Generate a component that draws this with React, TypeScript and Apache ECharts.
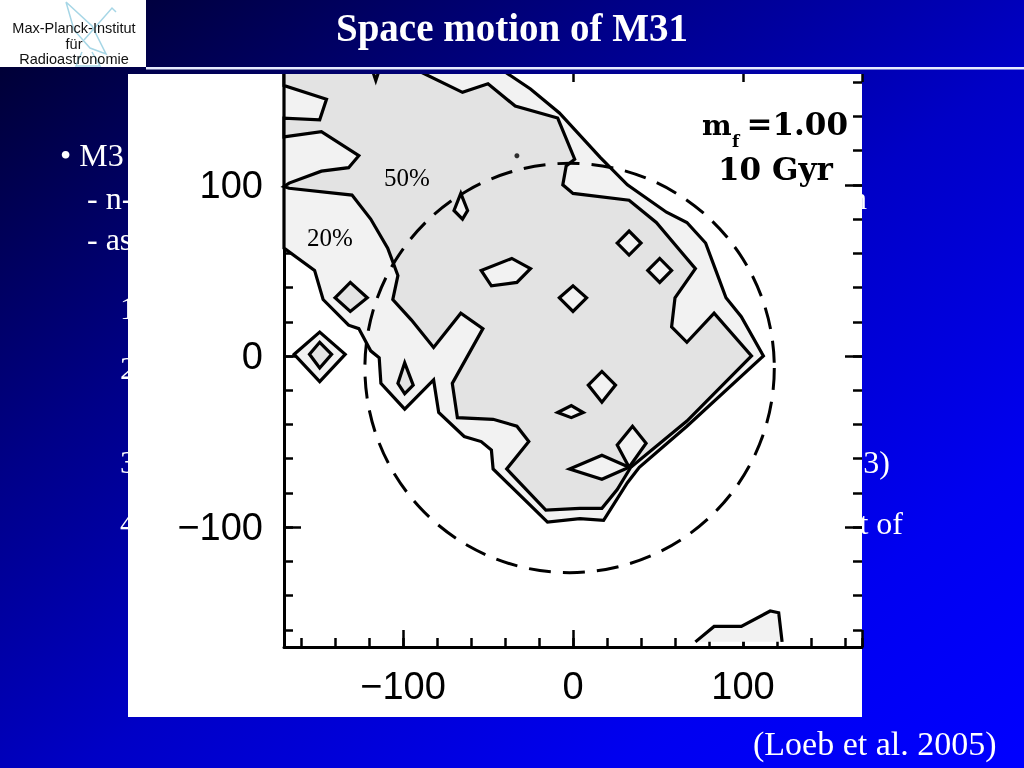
import React, { useEffect, useRef } from 'react';
import * as echarts from 'echarts';

// ---------- data ----------
const titleText = 'Space motion of M31';
const citationText = '(Loeb et al. 2005)';
const logoLines = ['Max-Planck-Institut', 'für', 'Radioastronomie'];
const bulletLeftTexts = ['• M3', '- n-', '- as', '1', '2', '3', '4'];
const bulletRightTexts = ['n', '3)', 't of'];
const levelLabels = ['50%', '20%'];
const panelMass = '=1.00';
const panelAge = '10 Gyr';

const axisMin = -170;
const axisMax = 170;
const minorStep = 20;
const majorStep = 100;
const tickLabelValues = [-100, 0, 100];
const tickLabels = ['−100', '0', '100'];

// 20% contour (outer)
const contour20: number[][] = [
  [-170, 63], [-152, 50], [-147, 33], [-132, 18], [-126, 16], [-119, 3], [-114, -1],
  [-113, -16], [-99, -31], [-82, -14], [-79, -33], [-64, -47], [-54, -50], [-48, -55],
  [-47, -66], [-15, -97], [4, -95], [18, -96], [32, -74], [39, -65], [67, -41], [112, 0],
  [99, 23], [90, 34], [84, 50], [78, 66], [67, 78], [55, 84], [32, 100], [16, 116],
  [-8, 142], [-25, 156], [-46, 170], [-170, 170]
];

// 50% contour (inner)
const contour50: number[][] = [
  [-98, 170], [-65, 154], [-50, 159], [-34, 146], [-9, 139], [1, 115], [-4, 111], [-6, 100],
  [0, 95], [33, 91], [49, 78], [72, 51], [60, 34], [58, 17], [67, 8], [83, 25], [105, 0],
  [67, -38], [34, -65], [26, -78], [17, -89], [4, -89], [-16, -90], [-39, -66], [-26, -50],
  [-33, -41], [-47, -37], [-68, -36], [-71, -16], [-53, 16], [-66, 25], [-82, 5], [-95, 21],
  [-106, 33], [-103, 47], [-109, 63], [-119, 80], [-130, 94], [-167, 98], [-170, 99],
  [-167, 101], [-148, 108], [-132, 110], [-126, 117], [-148, 131], [-170, 128], [-170, 139],
  [-149, 138], [-145, 150], [-170, 158], [-170, 170], [-119, 170], [-116, 161], [-113, 170]
];

// light islands inside the 50% region
const holes50: number[][][] = [
  [[-66, 95], [-62, 85], [-65, 80], [-70, 85]],
  [[-54, 50], [-36, 57], [-25, 51], [-33, 43], [-48, 41]],
  [[26, 66], [33, 73], [40, 66], [33, 59]],
  [[44, 50], [51, 57], [58, 50], [51, 43]],
  [[-8, 34], [0, 41], [8, 34], [0, 26]],
  [[9, -17], [17, -9], [25, -17], [17, -27]],
  [[-9, -33], [-1, -29], [6, -33], [-1, -36]],
  [[26, -52], [35, -41], [43, -51], [33, -65]],
  [[-2, -66], [17, -58], [33, -65], [17, -72]]
];

// 20% islands outside
const islands20: number[][][] = [
  [[-164, 1], [-149, 14], [-134, 1], [-149, -15]]
];

// 50% islands
const islands50: number[][][] = [
  [[-140, 34], [-131, 43], [-121, 34], [-131, 26]],
  [[-155, 1], [-149, 8], [-142, 1], [-149, -7]],
  [[-99, -4], [-94, -17], [-99, -22], [-103, -16]]
];

// open 20% contour at the lower right edge
const edge20: number[][] = [[72, -167], [83, -158], [99, -158], [116, -149], [121, -150], [123, -167]];

// dashed circle [cx, cy, r]
const circle: number[] = [-2, -7, 120];
// small dot
const dot: number[] = [-33, 117];

// ---------- styles ----------
const LIGHT = '#f2f2f2';
const DARK = '#e3e3e3';
const LINE_W = 3.2;
const bgGrad = {
  type: 'linear', x: 0, y: 0, x2: 737, y2: 983, global: true,
  colorStops: [
    { offset: 0, color: '#00002a' },
    { offset: 0.12, color: '#00004e' },
    { offset: 0.31, color: '#000088' },
    { offset: 0.54, color: '#0000c6' },
    { offset: 0.8, color: '#0000f0' },
    { offset: 1, color: '#0000ff' }
  ]
};

function polySeries(name: string, polys: number[][][], fill: string) {
  return {
    type: 'custom',
    name,
    coordinateSystem: 'cartesian2d',
    data: polys.map((p) => p[0]),
    renderItem: (params: any, api: any) => {
      const pts = polys[params.dataIndex].map((p) => api.coord(p));
      return {
        type: 'polygon',
        shape: { points: pts },
        style: { fill, stroke: '#000', lineWidth: LINE_W, lineJoin: 'miter' }
      };
    }
  };
}

function fmt(v: number) {
  const i = tickLabelValues.indexOf(Math.round(v));
  return i >= 0 && Math.abs(v - Math.round(v)) < 1e-6 ? tickLabels[i] : '';
}

function axis(kind: 'x' | 'y', position: string, step: number, len: number, main: boolean) {
  return {
    type: 'value',
    position,
    min: axisMin,
    max: axisMax,
    minInterval: step,
    maxInterval: step,
    splitLine: { show: false },
    axisLine: { show: main, onZero: false, lineStyle: { color: '#000', width: 3 } },
    axisTick: { show: true, inside: true, length: len, lineStyle: { color: '#000', width: 2.5 } },
    axisLabel: main
      ? {
          show: true,
          formatter: fmt,
          color: '#000',
          fontSize: 38,
          fontFamily: 'Liberation Sans',
          margin: kind === 'x' ? 20 : 21
        }
      : { show: false }
  };
}

function buildOption() {
  const slideFont = { fontFamily: 'Liberation Serif', fontSize: 32 };
  const leftPos = [[60, 155], [87, 198], [87, 239], [120, 308], [120, 368], [120, 462], [120, 523]];
  const rightPos = [[867, 198], [890, 462], [903, 523]];

  const graphics: any[] = [
    { type: 'rect', z: -100, silent: true, shape: { x: 0, y: 0, width: 1024, height: 768 }, style: { fill: bgGrad } },
    ...bulletLeftTexts.map((t, i) => ({
      type: 'text', z: -90, x: leftPos[i][0], y: leftPos[i][1],
      style: { text: t, fill: '#fff', ...slideFont, textAlign: 'left', textVerticalAlign: 'middle' }
    })),
    ...bulletRightTexts.map((t, i) => ({
      type: 'text', z: -90, x: rightPos[i][0], y: rightPos[i][1],
      style: { text: t, fill: '#fff', ...slideFont, textAlign: 'right', textVerticalAlign: 'middle' }
    })),
    { type: 'text', z: -90, x: 753, y: 743,
      style: { text: citationText, fill: '#fff', fontFamily: 'Liberation Serif', fontSize: 34, textAlign: 'left', textVerticalAlign: 'middle' } },
    { type: 'rect', z: -80, shape: { x: 128, y: 74, width: 734, height: 643 }, style: { fill: '#fff' } },
    // annotations in panel
    { type: 'text', z: 50, x: 407, y: 177,
      style: { text: levelLabels[0], fill: '#000', fontFamily: 'Liberation Serif', fontSize: 25, textAlign: 'center', textVerticalAlign: 'middle' } },
    { type: 'text', z: 50, x: 330, y: 237,
      style: { text: levelLabels[1], fill: '#000', fontFamily: 'Liberation Serif', fontSize: 25, textAlign: 'center', textVerticalAlign: 'middle' } },
    { type: 'text', z: 50, x: 702, y: 125,
      style: { text: 'm', fill: '#000', fontFamily: 'DejaVu Serif', fontWeight: 'bold', fontSize: 28, textAlign: 'left', textVerticalAlign: 'middle' } },
    { type: 'text', z: 50, x: 732, y: 141,
      style: { text: 'f', fill: '#000', fontFamily: 'DejaVu Serif', fontWeight: 'bold', fontSize: 17, textAlign: 'left', textVerticalAlign: 'middle' } },
    { type: 'text', z: 50, x: 848, y: 124,
      style: { text: panelMass, fill: '#000', fontFamily: 'DejaVu Serif', fontWeight: 'bold', fontSize: 31, textAlign: 'right', textVerticalAlign: 'middle' } },
    { type: 'text', z: 50, x: 718, y: 169,
      style: { text: panelAge, fill: '#000', fontFamily: 'DejaVu Serif', fontWeight: 'bold', fontSize: 31, textAlign: 'left', textVerticalAlign: 'middle' } },
    // cover above the panel top
    { type: 'rect', z: 100, silent: true, shape: { x: 120, y: 0, width: 770, height: 74 }, style: { fill: bgGrad } },
    { type: 'rect', z: 101, shape: { x: 146, y: 67, width: 878, height: 2.5 }, style: { fill: '#e6ebff' } },
    { type: 'text', z: 102, x: 512, y: 27,
      style: { text: titleText, fill: '#fff', fontFamily: 'Liberation Serif', fontWeight: 'bold', fontSize: 39, textAlign: 'center', textVerticalAlign: 'middle' } },
    // logo
    { type: 'rect', z: 101, shape: { x: 0, y: 0, width: 146, height: 67 }, style: { fill: '#fff' } },
    { type: 'polyline', z: 102, shape: { points: [[66, 2], [92, 26], [106, 54], [90, 48], [74, 30], [66, 2]] },
      style: { fill: 'none', stroke: '#a6d6e6', lineWidth: 1.5 } },
    { type: 'polyline', z: 102, shape: { points: [[84, 40], [112, 8], [116, 12]] },
      style: { fill: 'none', stroke: '#a6d6e6', lineWidth: 1.5 } },
    { type: 'polyline', z: 102, shape: { points: [[82, 52], [76, 66], [100, 66], [92, 52]] },
      style: { fill: 'none', stroke: '#a6d6e6', lineWidth: 1.5 } },
    ...logoLines.map((t, i) => ({
      type: 'text', z: 103, x: 74, y: [28, 44, 59][i],
      style: { text: t, fill: '#111', fontFamily: 'Liberation Sans', fontSize: 14.5, textAlign: 'center', textVerticalAlign: 'middle' }
    }))
  ];

  return {
    animation: false,
    backgroundColor: 'transparent',
    grid: { left: 284, top: 65, width: 578, height: 582, containLabel: false, outerBoundsMode: 'none' },
    xAxis: [
      axis('x', 'bottom', minorStep, 9, true),
      axis('x', 'bottom', majorStep, 17, false),
      axis('x', 'top', minorStep, 9, false),
      axis('x', 'top', majorStep, 17, false)
    ],
    yAxis: [
      axis('y', 'left', minorStep, 9, true),
      axis('y', 'left', majorStep, 17, false),
      axis('y', 'right', minorStep, 9, false),
      axis('y', 'right', majorStep, 17, false)
    ],
    graphic: { elements: graphics },
    series: [
      polySeries('20%', [contour20], LIGHT),
      polySeries('50%', [contour50], DARK),
      polySeries('holes', holes50, LIGHT),
      polySeries('islands20', islands20, LIGHT),
      polySeries('islands50', islands50, DARK),
      {
        type: 'custom',
        name: 'edge20',
        coordinateSystem: 'cartesian2d',
        data: [edge20[0]],
        renderItem: (_p: any, api: any) => {
          const pts = edge20.map((p) => api.coord(p));
          return {
            type: 'group',
            children: [
              { type: 'polygon', shape: { points: pts }, style: { fill: LIGHT, stroke: 'none' } },
              { type: 'polyline', shape: { points: pts }, style: { fill: 'none', stroke: '#000', lineWidth: LINE_W } }
            ]
          };
        }
      },
      {
        type: 'custom',
        name: 'circle',
        coordinateSystem: 'cartesian2d',
        z: 5,
        data: [circle],
        renderItem: (_p: any, api: any) => {
          const c = api.coord([circle[0], circle[1]]);
          const rx = api.size([circle[2], 0])[0];
          const ry = api.size([0, circle[2]])[1];
          return {
            type: 'circle',
            shape: { cx: c[0], cy: c[1], r: (rx + ry) / 2 },
            style: { fill: 'none', stroke: '#000', lineWidth: 3, lineDash: [22, 12] }
          };
        }
      },
      {
        type: 'scatter',
        name: 'dot',
        data: [dot],
        symbol: 'circle',
        symbolSize: 5,
        itemStyle: { color: '#000' },
        z: 6
      }
    ]
  };
}

export default function App() {
  const ref = useRef<HTMLDivElement>(null);
  useEffect(() => {
    if (!ref.current) return;
    const chart = echarts.init(ref.current, undefined, { renderer: 'svg', width: 1024, height: 768 });
    chart.setOption(buildOption() as any);
    return () => chart.dispose();
  }, []);
  return (
    <div
      ref={ref}
      style={{ position: 'fixed', left: 0, top: 0, width: 1024, height: 768 }}
    />
  );
}
